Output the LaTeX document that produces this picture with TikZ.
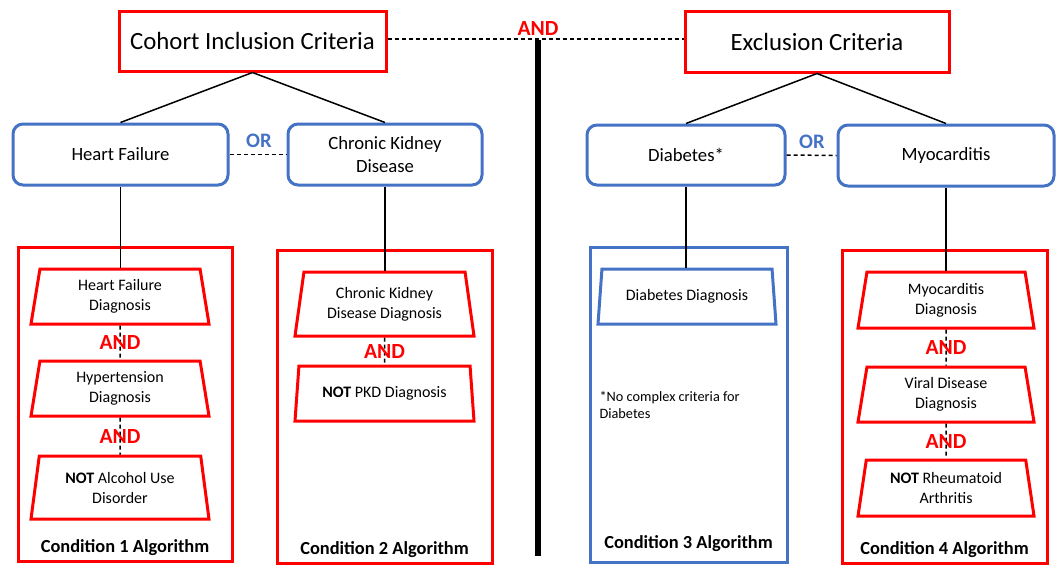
\documentclass[tikz,border=0pt]{standalone}
\usepackage{fontspec}
\setmainfont{Carlito}
\usetikzlibrary{shapes.geometric}
\definecolor{myred}{HTML}{FF0000}
\definecolor{myblue}{HTML}{4472C4}
\begin{document}
\begin{tikzpicture}[x=1pt,y=-1pt,
 critbox/.style={draw=myred,line width=3pt,fill=white,font=\fontsize{24.8}{30}\selectfont,inner sep=0pt},
 condbox/.style={draw=myblue,line width=3pt,rounded corners=10pt,fill=white,font=\fontsize{18.7}{22.7}\selectfont,align=center,inner sep=0pt},
 algbox/.style={draw=#1,line width=3pt,inner sep=0pt},
 trap/.style={trapezium,trapezium stretches body,draw=#1,line width=3pt,trapezium left angle=76,trapezium right angle=76,font=\fontsize{16}{20}\selectfont,align=center,inner sep=1pt},
 andlbl/.style={text=myred,font=\bfseries\fontsize{21.6}{24}\selectfont},
 orlbl/.style={text=myblue,font=\bfseries\fontsize{20.6}{22}\selectfont},
 solidlink/.style={draw=black,line width=1.5pt},
 dashlink/.style={draw=black,line width=1.5pt,dash pattern=on 4pt off 3pt},
 alglbl/.style={font=\bfseries\fontsize{18.4}{21}\selectfont},
 notelbl/.style={font=\fontsize{14.3}{17}\selectfont,align=left,anchor=west},
]
\useasboundingbox (0,0) rectangle (1064,574);

% top criteria
\node[critbox,minimum width=267pt,minimum height=60pt] (inc) at (252.5,41) {Cohort Inclusion Criteria};
\node[critbox,minimum width=264pt,minimum height=61pt] (exc) at (817,41.5) {Exclusion Criteria};

% conditions
\node[condbox,minimum width=215pt,minimum height=61pt] (hf) at (120.5,154.5) {Heart Failure};
\node[condbox,minimum width=194pt,minimum height=61pt] (ckd) at (385,154.5) {Chronic Kidney\\Disease};
\node[condbox,minimum width=198pt,minimum height=60pt] (dia) at (686,155) {Diabetes*};
\node[condbox,minimum width=216pt,minimum height=61pt] (myo) at (946,155.5) {Myocarditis};

% algorithm boxes
\node[algbox=myred,minimum width=214pt,minimum height=314pt] (c1) at (125,404) {};
\node[algbox=myred,minimum width=215pt,minimum height=313pt] (c2) at (384.5,406.5) {};
\node[algbox=myblue,minimum width=197pt,minimum height=315pt] (c3) at (688.5,404.5) {};
\node[algbox=myred,minimum width=205pt,minimum height=313pt] (c4) at (944.5,406.5) {};

\node[alglbl] (c1l) at (125,548) {Condition 1 Algorithm};
\node[alglbl] (c2l) at (384.5,550) {Condition 2 Algorithm};
\node[alglbl] (c3l) at (688.5,544) {Condition 3 Algorithm};
\node[alglbl] (c4l) at (944.5,550) {Condition 4 Algorithm};

% trapezoids
\node[trap=myred,minimum width=178pt,minimum height=55pt] (t1a) at (120,296.5) {Heart Failure\\Diagnosis};
\node[trap=myred,minimum width=178pt,minimum height=55pt] (t1b) at (120,388.5) {Hypertension\\Diagnosis};
\node[trap=myred,minimum width=178pt,minimum height=63pt] (t1c) at (120,487.5) {\textbf{NOT} Alcohol Use\\Disorder};

\node[trap=myred,minimum width=179pt,minimum height=64pt] (t2a) at (384.5,304) {Chronic Kidney\\Disease Diagnosis};
\node[trap=myred,minimum width=179pt,minimum height=55pt] (t2b) at (384.5,393.5) {\textbf{NOT} PKD Diagnosis};

\node[trap=myblue,minimum width=178pt,minimum height=55pt] (t3) at (687,296.5) {Diabetes Diagnosis};
\node[notelbl] (note) at (596,404.5) {*No complex criteria for\\Diabetes};

\node[trap=myred,minimum width=176pt,minimum height=56pt] (t4a) at (946,300) {Myocarditis\\Diagnosis};
\node[trap=myred,minimum width=176pt,minimum height=55pt] (t4b) at (946,394.5) {Viral Disease\\Diagnosis};
\node[trap=myred,minimum width=176pt,minimum height=56pt] (t4c) at (946,488) {\textbf{NOT} Rheumatoid\\Arthritis};

% thick divider
\coordinate (divtop) at (538,40);
\coordinate (divbot) at (538,556);
\draw[line width=6pt] (divtop) -- (divbot);

% top AND
\draw[dashlink] (inc.east |- 0,39) -- (exc.west |- 0,39);
\node[andlbl] (andtop) at (538,28) {AND};

% tree links
\draw[solidlink] (inc.south) -- (hf.north);
\draw[solidlink] (inc.south) -- (ckd.north);
\draw[solidlink] (exc.south) -- (dia.north);
\draw[solidlink] (exc.south) -- (myo.north);

% OR links
\draw[dashlink] (hf.east) -- (ckd.west);
\node[orlbl] (or1) at (259,141) {OR};
\draw[dashlink] (dia.east) -- (myo.west);
\node[orlbl] (or2) at (812,142) {OR};

% down links
\draw[solidlink] (hf.south) -- (hf.south |- t1a.north);
\draw[solidlink] (ckd.south) -- (ckd.south |- t2a.north);
\draw[solidlink] (dia.south) -- (dia.south |- t3.north);
\draw[solidlink] (myo.south) -- (myo.south |- t4a.north);

% AND links within algorithms
\draw[dashlink] (t1a.south) -- node[andlbl]{AND} (t1b.north);
\draw[dashlink] (t1b.south) -- node[andlbl]{AND} (t1c.north);
\draw[dashlink] (t2a.south) -- node[andlbl]{AND} (t2b.north);
\draw[dashlink] (t4a.south) -- node[andlbl]{AND} (t4b.north);
\draw[dashlink] (t4b.south) -- node[andlbl]{AND} (t4c.north);
\end{tikzpicture}
\end{document}
